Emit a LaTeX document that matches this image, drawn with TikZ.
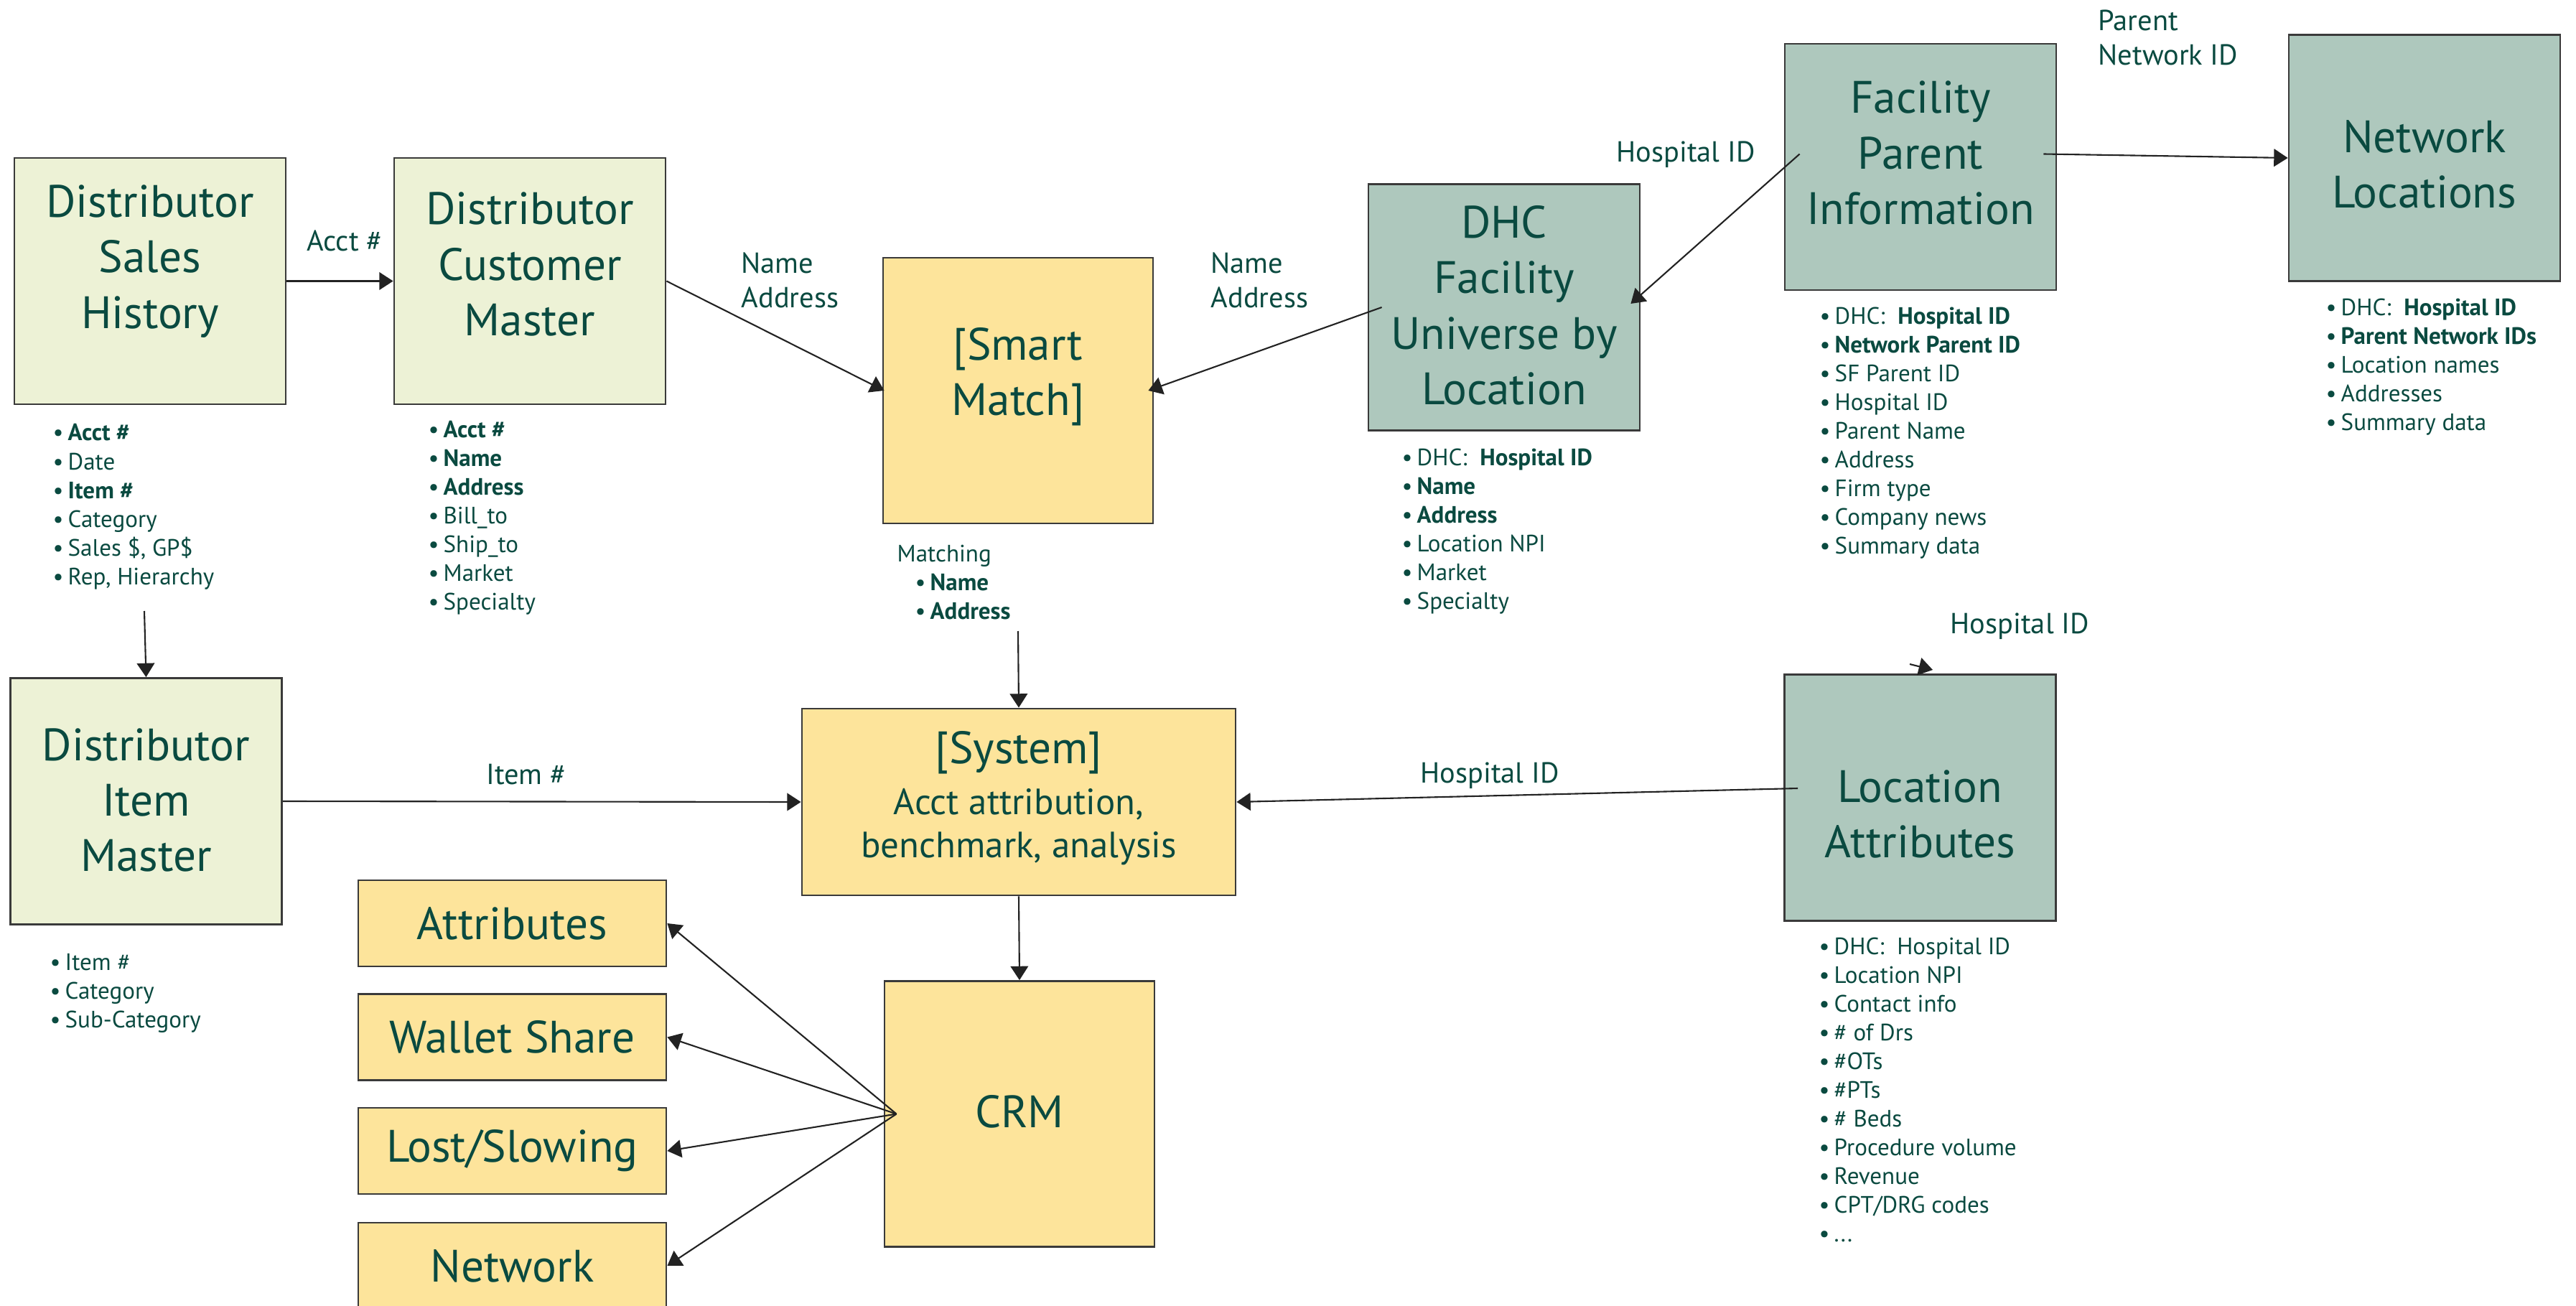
\documentclass[tikz,border=0pt]{standalone}
\usepackage{fontspec}
\setmainfont{PT Sans}
\usetikzlibrary{arrows.meta,calc}

\definecolor{ink}{HTML}{0A4A40}
\definecolor{lime}{HTML}{EDF2D6}
\definecolor{sage}{HTML}{AEC8BD}
\definecolor{sand}{HTML}{FDE49B}
\definecolor{edge}{HTML}{3A3A3A}
\definecolor{wire}{HTML}{222222}

\newcommand{\itm}{\makebox[0.21cm][l]{•}}

\begin{document}
\begin{tikzpicture}[
  box/.style={draw=edge, line width=0.8pt, inner sep=0pt, text=ink, font=\fontsize{18}{22}\selectfont},
  tall/.style={box, minimum width=3.78cm, minimum height=3.43cm},
  limebox/.style={tall, fill=lime},
  sagebox/.style={tall, fill=sage},
  sandbox/.style={box, fill=sand, minimum width=3.76cm, minimum height=3.70cm},
  slim/.style={box, fill=sand, minimum width=4.29cm, minimum height=1.20cm},
  title/.style={text=ink, align=center, inner sep=0pt, font=\fontsize{18}{22}\selectfont},
  list/.style={text=ink, align=left, anchor=north west, inner sep=0pt, font=\fontsize{9.4}{11.4}\selectfont},
  tag/.style={text=ink, align=left, inner sep=0pt, font=\fontsize{11.5}{13.7}\selectfont},
  link/.style={wire, line width=0.6pt, -{Triangle[length=5.5pt,width=7pt]}}
]
\path[use as bounding box, fill=white] (0,0) rectangle (35.88,-18.19);

% boxes
\node[limebox] (dsh) at (2.09,-3.915) {};
\node[limebox] (dcm) at (7.38,-3.915) {};
\node[limebox] (dim) at (2.035,-11.16) {};
\node[sandbox] (sm) at (14.18,-5.44) {};
\node[sagebox] (dhc) at (20.95,-4.28) {};
\node[sagebox] (fpi) at (26.75,-2.325) {};
\node[sagebox] (nl) at (33.77,-2.2) {};
\node[sagebox] (la) at (26.745,-11.11) {};
\node[box, fill=sand, minimum width=6.04cm, minimum height=2.60cm] (sys) at (14.19,-11.17) {};
\node[sandbox] (crm) at (14.2,-15.515) {};
\node[slim] (attr) at (7.135,-12.86) {Attributes};
\node[slim] (ws) at (7.135,-14.445) {Wallet Share};
\node[slim] (lost) at (7.135,-16.03) {Lost/Slowing};
\node[slim] (net) at (7.135,-17.63) {Network};

% titles
\node[title] (dshT) at (2.09,-3.64) {Distributor\\Sales\\History};
\node[title] (dcmT) at (7.38,-3.68) {Distributor\\Customer\\Master};
\node[title] (dimT) at (2.035,-11.145) {Distributor\\Item\\Master};
\node[title] (smT) at (14.18,-5.25) {[Smart\\Match]};
\node[title] (dhcT) at (20.95,-4.255) {DHC\\Facility\\Universe by\\Location};
\node[title] (fpiT) at (26.75,-2.13) {Facility\\Parent\\Information};
\node[title] (nlT) at (33.77,-2.29) {Network\\Locations};
\node[title] (laT) at (26.745,-11.34) {Location\\Attributes};
\node[title] (sysT) at (14.19,-11.12) {[System]\\[-2pt]{\fontsize{14.5}{17}\selectfont Acct attribution,}\\[-4.7pt]{\fontsize{14.5}{17}\selectfont benchmark, analysis}};
\node[title] (crmT) at (14.2,-15.48) {CRM};

% free ends
\coordinate (dshE) at (2.01,-8.51);
\coordinate (matchE) at (14.18,-8.79);
\coordinate (laA) at (26.60,-9.25);
\coordinate (laB) at (26.92,-9.33);

% connectors
\draw[link] (dsh.east) -- (dcm.west);
\draw[link] (dcm.east) -- ([xshift=0.03cm]sm.west);
\draw[link] ([xshift=0.2cm]dhc.west) -- ([xshift=-0.08cm]sm.east);
\draw[link] ([shift={(0.22,0.18)}]fpi.west) -- ([shift={(-0.14,0.05)}]dhc.east);
\draw[link] ([shift={(-0.19,0.18)}]fpi.east) -- (nl.west);
\draw[link] (dshE) -- (dim.north);
\draw[link] (matchE) -- (sys.north);
\draw[link] (dim.east) -- (sys.west);
\draw[link] ([shift={(0.2,0.13)}]la.west) -- (sys.east);
\draw[link] (sys.south) -- (crm.north);
\draw[link] ([xshift=0.18cm]crm.west) -- (attr.east);
\draw[link] ([xshift=0.18cm]crm.west) -- (ws.east);
\draw[link] ([xshift=0.18cm]crm.west) -- (lost.east);
\draw[link] ([xshift=0.18cm]crm.west) -- (net.east);
\draw[link] (laA) -- (laB);

% connector labels
\node[tag] (acctL) at (4.80,-3.35) {Acct \#};
\node[tag, anchor=west] (nameL1) at (10.32,-3.90) {Name\\Address};
\node[tag, anchor=west] (nameL2) at (16.86,-3.90) {Name\\Address};
\node[tag] (hospL1) at (23.48,-2.15) {Hospital ID};
\node[tag, anchor=west] (parentL) at (29.22,-0.525) {Parent\\Network ID};
\node[tag] (itemL) at (7.33,-10.79) {Item \#};
\node[tag] (hospL2) at (20.75,-10.80) {Hospital ID};
\node[tag, anchor=west] (hospL3) at (27.16,-8.72) {Hospital ID};

% field lists
\node[list] (dshL) at (0.73,-5.90) {\itm\textbf{Acct \#}\\\itm Date\\\itm\textbf{Item \#}\\\itm Category\\\itm Sales \$, GP\$\\\itm Rep, Hierarchy};
\node[list] (dcmL) at (5.96,-5.85) {\itm\textbf{Acct \#}\\\itm\textbf{Name}\\\itm\textbf{Address}\\\itm Bill\_to\\\itm Ship\_to\\\itm Market\\\itm Specialty};
\node[list] (matchL) at (12.49,-7.58) {Matching\\\hspace*{0.25cm}\itm\textbf{Name}\\\hspace*{0.25cm}\itm\textbf{Address}};
\node[list] (dhcL) at (19.52,-6.24) {\itm DHC:\ \ \textbf{Hospital ID}\\\itm\textbf{Name}\\\itm\textbf{Address}\\\itm Location NPI\\\itm Market\\\itm Specialty};
\node[list] (fpiL) at (25.34,-4.27) {\itm DHC:\ \ \textbf{Hospital ID}\\\itm\textbf{Network Parent ID}\\\itm SF Parent ID\\\itm Hospital ID\\\itm Parent Name\\\itm Address\\\itm Firm type\\\itm Company news\\\itm Summary data};
\node[list] (nlL) at (32.39,-4.15) {\itm DHC:\ \ \textbf{Hospital ID}\\\itm\textbf{Parent Network IDs}\\\itm Location names\\\itm Addresses\\\itm Summary data};
\node[list] (dimL) at (0.69,-13.28) {\itm Item \#\\\itm Category\\\itm Sub-Category};
\node[list] (laL) at (25.33,-13.05) {\itm DHC:\ \ Hospital ID\\\itm Location NPI\\\itm Contact info\\\itm \# of Drs\\\itm \#OTs\\\itm \#PTs\\\itm \# Beds\\\itm Procedure volume\\\itm Revenue\\\itm CPT/DRG codes\\\itm ...};

\end{tikzpicture}
\end{document}
